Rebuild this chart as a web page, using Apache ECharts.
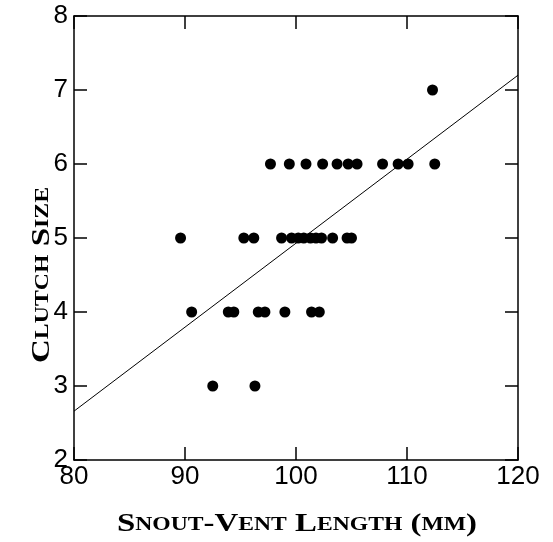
<!DOCTYPE html>
<html><head><meta charset="utf-8">
<script src="https://cdn.jsdelivr.net/npm/echarts@6/dist/echarts.min.js"></script>
<style>html,body{margin:0;padding:0;background:#fff}#c{width:553px;height:542px}</style>
</head><body><div id="c"></div>
<script>
// Data
const svlRow7 = [112.3];
const svlRow6 = [97.7, 99.4, 100.9, 102.4, 103.7, 104.7, 105.5, 107.8, 109.2, 110.1, 112.5];
const svlRow5 = [89.6, 95.3, 96.2, 98.7, 99.6, 100.2, 100.7, 101.3, 101.8, 102.3, 103.3, 104.6, 105.0];
const svlRow4 = [90.6, 93.9, 94.4, 96.6, 97.2, 99.0, 101.4, 102.1];
const svlRow3 = [92.5, 96.3];
const clutchRows = [7, 6, 5, 4, 3];
const fitX = [80, 120];
const fitY = [2.66, 7.2];
const xTicks = [80, 90, 100, 110, 120];
const yTicks = [2, 3, 4, 5, 6, 7, 8];

const rows = [svlRow7, svlRow6, svlRow5, svlRow4, svlRow3];
const points = [];
rows.forEach((r, i) => r.forEach(v => points.push([v, clutchRows[i]])));
const fitData = fitX.map((x, i) => [x, fitY[i]]);

// small-caps title helper
const BIG = 25, SMALL = 18, SERIF = 'Liberation Serif';
const ctx = document.createElement('canvas').getContext('2d');
function measure(parts) {
  let w = 0;
  parts.forEach(p => { ctx.font = 'bold ' + (p[1] ? BIG : SMALL) + 'px "' + SERIF + '"'; w += ctx.measureText(p[0]).width; });
  return w;
}
function rich(parts) { return parts.map(p => '{' + (p[1] ? 'b' : 's') + '|' + p[0] + '}').join(''); }
const xTitle = [['S', 1], ['NOUT', 0], ['-V', 1], ['ENT', 0], [' L', 1], ['ENGTH', 0], [' (', 1], ['MM', 0], [')', 1]];
const yTitle = [['C', 1], ['LUTCH', 0], [' S', 1], ['IZE', 0]];
const richStyle = {
  b: {fontFamily: SERIF, fontWeight: 'bold', fontSize: BIG, fill: '#000'},
  s: {fontFamily: SERIF, fontWeight: 'bold', fontSize: SMALL, fill: '#000'}
};

const chart = echarts.init(document.getElementById('c'), null, {renderer: 'canvas'});
const axisLine = {show: true, lineStyle: {color: '#000', width: 1.5}};
const tickIn = {show: true, inside: true, length: 13, lineStyle: {color: '#000', width: 1.5}};
const labelFont = {color: '#000', fontFamily: 'Liberation Sans', fontSize: 26};
chart.setOption({
  animation: false,
  backgroundColor: '#fff',
  grid: {left: 74, right: 35, top: 16, bottom: 82},
  xAxis: [
    {type: 'value', min: xTicks[0], max: xTicks[xTicks.length - 1], interval: 10,
     axisLine, axisTick: tickIn, splitLine: {show: false},
     axisLabel: Object.assign({margin: 4}, labelFont)},
    {type: 'value', position: 'top', min: xTicks[0], max: xTicks[xTicks.length - 1], interval: 10,
     axisLine, axisTick: tickIn, splitLine: {show: false}, axisLabel: {show: false}}
  ],
  yAxis: [
    {type: 'value', min: yTicks[0], max: yTicks[yTicks.length - 1], interval: 1,
     axisLine, axisTick: tickIn, splitLine: {show: false},
     axisLabel: Object.assign({margin: 6}, labelFont)},
    {type: 'value', position: 'right', min: yTicks[0], max: yTicks[yTicks.length - 1], interval: 1,
     axisLine, axisTick: tickIn, splitLine: {show: false}, axisLabel: {show: false}}
  ],
  graphic: [
    {type: 'text', x: 297, y: 525, scaleX: 360 / measure(xTitle),
     style: {text: rich(xTitle), align: 'center', verticalAlign: 'middle', rich: richStyle}},
    {type: 'text', x: 43, y: 275, rotation: Math.PI / 2, scaleX: 176 / measure(yTitle),
     style: {text: rich(yTitle), align: 'center', verticalAlign: 'middle', rich: richStyle}}
  ],
  series: [
    {type: 'line', data: fitData, showSymbol: false, symbol: 'none',
     lineStyle: {color: '#000', width: 1}, silent: true},
    {type: 'scatter', data: points, symbol: 'circle', symbolSize: 11,
     itemStyle: {color: '#000', opacity: 1}, silent: true}
  ]
});
</script></body></html>
